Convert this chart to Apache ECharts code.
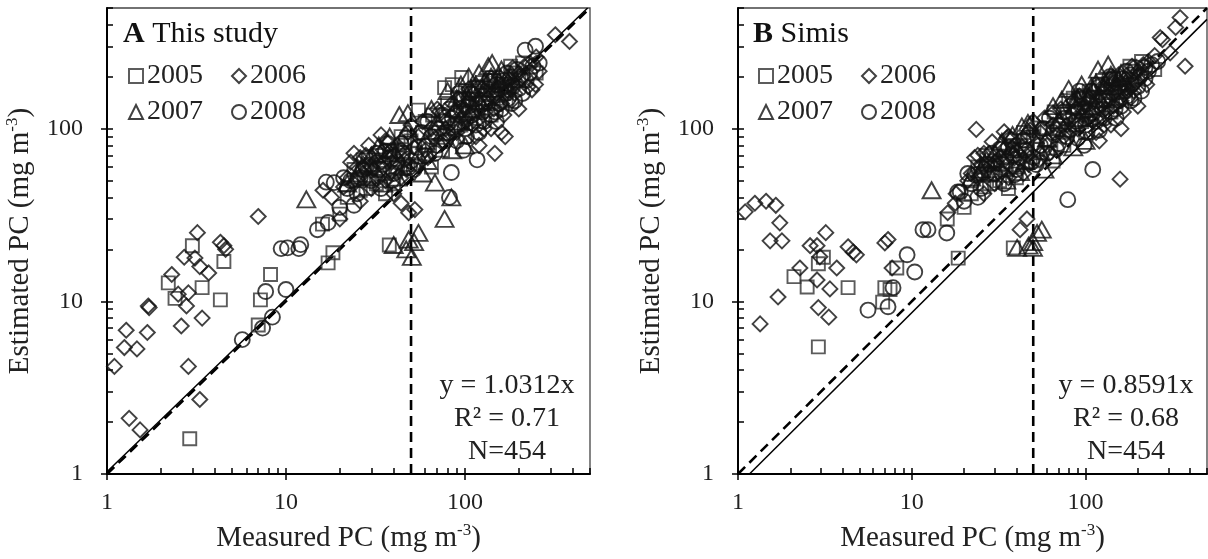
<!DOCTYPE html>
<html>
<head>
<meta charset="utf-8">
<script src="https://cdn.jsdelivr.net/npm/echarts@6/dist/echarts.min.js"></script>
<style>
html, body { margin: 0; padding: 0; background: #fff; }
#id-div-chart { width: 1208px; height: 559px; }
</style>
</head>
<body>
<div id="id-div-chart"></div>
<script>
var log = console.log.bind(console)

// 坐标轴: 对数 1 ~ 500
var axisMin = 1
var axisMax = 500
var majorTicks = [1, 10, 100]
var minorTicks = [2, 3, 4, 5, 6, 7, 8, 9, 20, 30, 40, 50, 60, 70, 80, 90, 200, 300, 400, 500]
var cutoff = 50
var years = ['2005', '2006', '2007', '2008']

// A This study  [measured, estimated]
var slopeA = 1.0312
var statsA = ['y = 1.0312x', 'R² = 0.71', 'N=454']
var a2005 = [
    [3.0, 21], [4.5, 17], [2.2, 12.8], [3.4, 12], [2.4, 10.4], [4.3, 10.2], [2.9, 1.6],
    [7.2, 10.2], [8.2, 14.3], [7, 7.3], [17.2, 16.7], [18.3, 19.1], [37.8, 21.2],
    [77, 173], [96, 198], [85, 180], [55, 128], [60, 110], [25, 50], [30, 62], [35, 55],
    [45, 70], [28, 45], [22, 40], [50, 85], [70, 95], [90, 120], [110, 140], [130, 160],
    [150, 150], [120, 110], [100, 90], [65, 60], [200, 190], [180, 230], [40, 48],
    [16, 28], [20, 32], [250, 210], [33, 70], [42, 60], [140, 120], [75, 75],
    [24, 58], [27, 66], [32, 48], [38, 75], [44, 90], [48, 62], [58, 95], [66, 120],
    [80, 140], [95, 105], [105, 160], [115, 125], [125, 185], [160, 175], [170, 145],
    [190, 210], [210, 240], [26, 44], [36, 42], [62, 80],
    [29, 52], [34, 64], [41, 56], [46, 80], [53, 72], [88, 100], [98, 150], [108, 115],
    [118, 175], [135, 140], [145, 190], [165, 160],
]
var a2006 = [
    [7, 31], [3.2, 25], [4.3, 22], [4.5, 21], [4.6, 20], [2.7, 18], [3.1, 17.8], [3.3, 15.9],
    [3.7, 14.6], [2.3, 14.3], [2.5, 11], [2.85, 11.2], [1.7, 9.4], [1.72, 9.2], [2.78, 9.4],
    [2.6, 7.2], [3.4, 8], [1.28, 6.8], [1.68, 6.6], [1.25, 5.4], [1.47, 5.3], [1.1, 4.2],
    [2.85, 4.2], [3.3, 2.7], [1.33, 2.1], [1.53, 1.8], [16.1, 44], [384, 320], [320, 350],
    [260, 215], [248, 180], [237, 168], [48.5, 32.6], [52.5, 34], [44, 37], [40, 42],
    [168, 90], [147, 72], [18, 40], [22, 52], [25, 60], [28, 70], [32, 65], [35, 75],
    [38, 58], [42, 80], [46, 66], [55, 90], [60, 75], [65, 100], [75, 85], [80, 110],
    [90, 95], [100, 130], [110, 105], [120, 150], [130, 125], [140, 175], [160, 140],
    [170, 190], [190, 160], [210, 200], [230, 240], [160, 95], [120, 80], [140, 100],
    [200, 130], [30, 45], [26, 38], [20, 30], [24, 72], [36, 50], [70, 130], [105, 170],
    [21, 46], [23, 64], [27, 55], [29, 80], [31, 58], [34, 92], [37, 68], [40, 70],
    [44, 52], [48, 95], [52, 78], [58, 110], [62, 68], [68, 88], [72, 125], [78, 100],
    [85, 140], [95, 115], [105, 145], [115, 90], [125, 170], [135, 150], [145, 130],
    [155, 200], [175, 165], [185, 225], [195, 185], [215, 230], [225, 175], [250, 260],
    [24, 48], [26, 68], [30, 60], [33, 52], [36, 85], [39, 64], [43, 74], [47, 58],
    [50, 105], [54, 62], [82, 90], [88, 125], [92, 150], [102, 110], [112, 160],
    [118, 130], [128, 100], [138, 190], [150, 160], [165, 120], [180, 180], [200, 210],
]
var a2007 = [
    [13, 39], [142, 240], [105, 200], [43, 120], [48, 123], [77, 30], [84, 40], [40, 21.2],
    [48.5, 22.8], [55, 24.9], [50.5, 18.1], [68, 48.7], [52, 22], [47, 20], [25, 55],
    [30, 70], [35, 48], [45, 60], [60, 85], [70, 110], [90, 150], [110, 130], [130, 190],
    [120, 210], [150, 170], [100, 80], [85, 75], [38, 90], [160, 220], [95, 180], [28, 52],
    [180, 200], [62, 65], [22, 48], [27, 62], [33, 80], [40, 75], [48, 100], [55, 70],
    [65, 130], [75, 95], [80, 165], [100, 125], [105, 150], [115, 180], [125, 160],
    [140, 200], [170, 180], [58, 55],
    [31, 60], [37, 72], [42, 52], [88, 130], [92, 110], [108, 170], [120, 145], [135, 230],
    [155, 190],
]
var a2008 = [
    [5.7, 6], [7.4, 7], [8.4, 8.1], [7.7, 11.4], [10, 11.7], [9.4, 20.2], [11.8, 20.2],
    [10.2, 20.4], [12.1, 21.3], [15, 26], [17.2, 28.6], [18.6, 48.7], [16.8, 49],
    [217, 285], [248, 300], [82, 40], [84, 55.7], [117, 66], [20, 35], [22, 45], [25, 42],
    [30, 50], [35, 62], [40, 55], [45, 72], [50, 65], [55, 78], [60, 70], [70, 80],
    [80, 95], [90, 85], [100, 100], [110, 120], [120, 95], [130, 140], [140, 120],
    [150, 180], [160, 130], [170, 160], [180, 200], [190, 145], [200, 170], [220, 190],
    [240, 230], [120, 170], [95, 130], [75, 120], [65, 90], [150, 110], [28, 60], [38, 68],
    [21, 52], [24, 36], [27, 58], [32, 72], [34, 45], [37, 82], [42, 64], [47, 88],
    [52, 58], [57, 95], [62, 110], [68, 72], [72, 100], [78, 85], [85, 115], [92, 160],
    [98, 75], [105, 135], [115, 105], [125, 125], [135, 170], [145, 155], [155, 140],
    [165, 190], [175, 150], [185, 175], [195, 220], [210, 160], [230, 210], [260, 240],
    [23, 50], [26, 52], [29, 68], [33, 58], [36, 74], [39, 50], [44, 82], [49, 60],
    [76, 110], [82, 130], [88, 105], [96, 145], [102, 90], [108, 160], [118, 140],
    [128, 110], [138, 195], [148, 125], [158, 170], [172, 210], [182, 140], [205, 195],
]

// B Simis  [measured, estimated]
var slopeB = 0.8591
var statsB = ['y = 0.8591x', 'R² = 0.68', 'N=454']
var b2005 = [
    [2.1, 13.9], [2.5, 12.1], [2.9, 5.45], [4.3, 12], [7, 12], [6.8, 9.9], [8.2, 15.6],
    [7.5, 11.7], [18.5, 17.8], [38.4, 20.4], [54.6, 101], [3.1, 18], [2.9, 16.5],
    [25, 55], [30, 65], [35, 58], [45, 75], [28, 48], [22, 42], [50, 90], [70, 100],
    [90, 125], [110, 150], [130, 165], [150, 150], [120, 115], [100, 95], [65, 65],
    [200, 200], [180, 230], [40, 52], [16, 30], [20, 35], [250, 220], [60, 100], [85, 150],
    [140, 125], [75, 80], [24, 60], [27, 70], [32, 50], [38, 80], [44, 95], [48, 65],
    [58, 100], [66, 125], [80, 145], [95, 110], [105, 165], [115, 130], [125, 190],
    [160, 180], [170, 150], [190, 215], [210, 245], [26, 46], [36, 45], [62, 85],
    [29, 55], [34, 68], [41, 60], [46, 85], [53, 76], [88, 105], [98, 155], [108, 120],
    [118, 180], [135, 145], [145, 195], [165, 165],
]
var b2006 = [
    [1.1, 33], [1.25, 37], [1.45, 38], [1.65, 36], [1.74, 28.5], [1.53, 22.4], [1.79, 22.4],
    [1.7, 10.6], [1.34, 7.4], [3.2, 25], [2.6, 21], [2.85, 21], [2.96, 18.1], [2.27, 15.6],
    [2.85, 13.3], [3.38, 11.8], [4.3, 20.7], [4.6, 19.3], [4.8, 18.6], [3.7, 15.6],
    [2.9, 9.2], [3.33, 8.1], [7, 21.8], [7.3, 22.8], [7.7, 15.6], [23.5, 99], [158, 51],
    [374, 230], [350, 440], [330, 386], [269, 337], [307, 275], [277, 328], [35.3, 88.7],
    [65, 123], [42, 26], [46, 30], [16.1, 32.6], [17.8, 37], [18, 42], [22, 55], [25, 62],
    [28, 72], [32, 68], [35, 78], [38, 60], [42, 85], [46, 70], [55, 95], [60, 80],
    [65, 105], [75, 90], [80, 115], [90, 100], [100, 135], [110, 110], [120, 155],
    [130, 130], [140, 180], [160, 145], [170, 195], [190, 165], [210, 205], [230, 245],
    [160, 100], [120, 85], [140, 105], [200, 135], [30, 48], [26, 42], [24, 70], [36, 52],
    [21, 50], [23, 68], [27, 58], [29, 84], [31, 62], [34, 96], [37, 72], [40, 74],
    [44, 55], [48, 98], [52, 82], [58, 115], [62, 72], [68, 92], [72, 130], [78, 105],
    [85, 145], [95, 120], [105, 150], [115, 95], [125, 175], [135, 155], [145, 135],
    [155, 205], [175, 170], [185, 230], [195, 190], [215, 235], [225, 180], [250, 265],
    [24, 52], [26, 72], [30, 64], [33, 56], [36, 90], [39, 68], [43, 78], [47, 62],
    [50, 110], [54, 66], [82, 95], [88, 130], [92, 155], [102, 115], [112, 165],
    [118, 135], [128, 105], [138, 195], [150, 165], [165, 125], [180, 185], [200, 215],
]
var b2007 = [
    [13, 44], [118, 220], [144, 198], [43, 103], [46.6, 108], [73, 147], [89, 153],
    [40.4, 20.4], [49.8, 20.4], [52.6, 24.9], [56, 26], [50, 22], [47, 21], [25, 58],
    [30, 72], [35, 50], [45, 65], [60, 88], [70, 112], [90, 150], [110, 135], [130, 185],
    [150, 175], [100, 85], [85, 78], [38, 92], [160, 210], [95, 180], [28, 55], [65, 70],
    [22, 52], [27, 66], [33, 84], [40, 78], [48, 105], [55, 74], [65, 135], [75, 100],
    [80, 170], [100, 130], [105, 155], [115, 185], [125, 165], [140, 205], [170, 185],
    [58, 58],
    [31, 64], [37, 76], [42, 56], [88, 135], [92, 115], [108, 175], [120, 150], [135, 235],
    [155, 195],
]
var b2008 = [
    [5.6, 8.9], [7.3, 9.3], [7.8, 12], [9.4, 18.6], [10.4, 14.8], [11.6, 26], [12.4, 26],
    [15.9, 24.9], [19, 43], [18.4, 43], [220, 226], [79, 38.8], [110, 58], [20, 38],
    [22, 48], [25, 45], [30, 55], [35, 65], [40, 58], [45, 75], [50, 68], [55, 80],
    [60, 72], [70, 82], [80, 98], [90, 88], [100, 105], [110, 122], [120, 98], [130, 145],
    [140, 125], [150, 185], [160, 135], [170, 165], [180, 205], [190, 150], [200, 175],
    [220, 195], [240, 235], [120, 175], [95, 135], [75, 125], [65, 95], [150, 115],
    [28, 62], [38, 70], [21, 55], [24, 40], [27, 62], [32, 76], [34, 48], [37, 86],
    [42, 68], [47, 92], [52, 62], [57, 100], [62, 115], [68, 76], [72, 105], [78, 90],
    [85, 120], [92, 165], [98, 80], [105, 140], [115, 110], [125, 130], [135, 175],
    [145, 160], [155, 145], [165, 195], [175, 155], [185, 180], [195, 225], [210, 165],
    [230, 215], [260, 245],
    [23, 54], [26, 56], [29, 72], [33, 62], [36, 78], [39, 54], [44, 86], [49, 64],
    [76, 115], [82, 135], [88, 110], [96, 150], [102, 95], [108, 165], [118, 145],
    [128, 115], [138, 200], [148, 130], [158, 175], [172, 215], [182, 145], [205, 200],
]

var font = 'Liberation Serif'
var symbols = ['rect', 'diamond', 'triangle', 'circle']
var sizes = [13, 15, [18, 16], 15]

var grids = [
    {left: 107, top: 8, width: 483, height: 466},
    {left: 738, top: 8, width: 469, height: 466},
]

var scatter = function(k, data, axis) {
    return {
        name: years[k],
        type: 'scatter',
        xAxisIndex: axis * 2,
        yAxisIndex: axis * 2,
        data: data,
        symbol: symbols[k],
        symbolSize: sizes[k],
        silent: true,
        z: 3,
        itemStyle: {
            color: 'rgba(0,0,0,0)',
            borderColor: k == 0 ? '#333' : '#111',
            borderWidth: 1.9,
        },
    }
}

var line = function(data, axis, type, width) {
    return {
        type: 'line',
        xAxisIndex: axis * 2,
        yAxisIndex: axis * 2,
        data: data,
        symbol: 'none',
        silent: true,
        z: 2,
        lineStyle: {color: '#000', width: width, type: type},
    }
}

var fitLine = function(slope) {
    var x0 = Math.max(axisMin, axisMin / slope)
    var x1 = Math.min(axisMax, axisMax / slope)
    return [[x0, slope * x0], [x1, slope * x1]]
}

var axisPair = function(g, isX) {
    var name = isX ? 'Measured PC (mg m{sup|-3})' : 'Estimated PC (mg m{sup|-3})'
    var main = {
        type: 'log',
        logBase: 10,
        gridIndex: g,
        min: axisMin,
        max: axisMax,
        position: isX ? 'bottom' : 'left',
        name: name,
        nameLocation: 'middle',
        nameGap: isX ? 48 : 71,
        nameTextStyle: {
            fontFamily: font, fontSize: 29, color: '#222', lineHeight: 32,
            rich: {sup: {fontFamily: font, fontSize: 17, color: '#222', verticalAlign: 'top', lineHeight: 20}},
        },
        axisLine: {onZero: false, lineStyle: {color: '#000', width: 2}},
        axisTick: {show: true, inside: false, length: 6, customValues: majorTicks, lineStyle: {color: '#000', width: 1.5}},
        axisLabel: {customValues: majorTicks, fontFamily: font, fontSize: 24, color: '#222', margin: isX ? 17 : 24},
        splitLine: {show: false},
    }
    var inner = {
        type: 'log',
        logBase: 10,
        gridIndex: g,
        min: axisMin,
        max: axisMax,
        position: isX ? 'bottom' : 'left',
        axisLine: {show: false, onZero: false},
        axisTick: {show: true, inside: true, length: 6, customValues: majorTicks.concat(minorTicks), lineStyle: {color: '#000', width: 1.5}},
        axisLabel: {show: false},
        splitLine: {show: false},
    }
    return [main, inner]
}

var legends = function(left) {
    var base = {
        left: left,
        itemWidth: 14,
        itemHeight: 14,
        itemGap: 28,
        selectedMode: false,
        textStyle: {fontFamily: font, fontSize: 28, color: '#222', padding: [0, 0, 0, -1]},
    }
    var row1 = Object.assign({}, base, {top: 57, data: ['2005', '2006']})
    var row2 = Object.assign({}, base, {top: 93, data: ['2007', '2008']})
    return [row1, row2]
}

var titleOf = function(letter, text, left) {
    return {
        text: '{b|' + letter + '} ' + text,
        left: left,
        top: 19,
        padding: 0,
        textStyle: {
            fontFamily: font, fontSize: 30, fontWeight: 'normal', color: '#111',
            rich: {b: {fontFamily: font, fontSize: 30, fontWeight: 'bold', color: '#111'}},
        },
    }
}

var statsText = function(lines, cx) {
    return lines.map(function(t, i) {
        return {
            type: 'text',
            x: cx,
            y: 386 + i * 33,
            style: {text: t, font: '28px "Liberation Serif"', fill: '#222', align: 'center', verticalAlign: 'middle'},
        }
    })
}

var buildOption = function() {
    var diag = [[axisMin, axisMin], [axisMax, axisMax]]
    var vline = [[cutoff, axisMin], [cutoff, axisMax]]
    var series = [
        line(diag, 0, [10, 6], 2.6),
        line(fitLine(slopeA), 0, 'solid', 1.5),
        line(vline, 0, [10, 6], 2.6),
        line(diag, 1, [10, 6], 2.6),
        line(fitLine(slopeB), 1, 'solid', 1.5),
        line(vline, 1, [10, 6], 2.6),
        scatter(0, a2005, 0), scatter(1, a2006, 0), scatter(2, a2007, 0), scatter(3, a2008, 0),
        scatter(0, b2005, 1), scatter(1, b2006, 1), scatter(2, b2007, 1), scatter(3, b2008, 1),
    ]
    return {
        animation: false,
        backgroundColor: '#fff',
        grid: grids.map(function(g) {
            return Object.assign({show: true, borderColor: '#444', borderWidth: 1.3, containLabel: false}, g)
        }),
        title: [titleOf('A', 'This study', 123), titleOf('B', 'Simis', 753)],
        legend: legends(123).concat(legends(753)),
        xAxis: axisPair(0, true).concat(axisPair(1, true)),
        yAxis: axisPair(0, false).concat(axisPair(1, false)),
        series: series,
        graphic: statsText(statsA, 507).concat(statsText(statsB, 1126)),
    }
}

var __main = function() {
    var chart = echarts.init(document.querySelector('#id-div-chart'), null, {renderer: 'canvas'})
    chart.setOption(buildOption())
}

__main()
</script>
</body>
</html>
